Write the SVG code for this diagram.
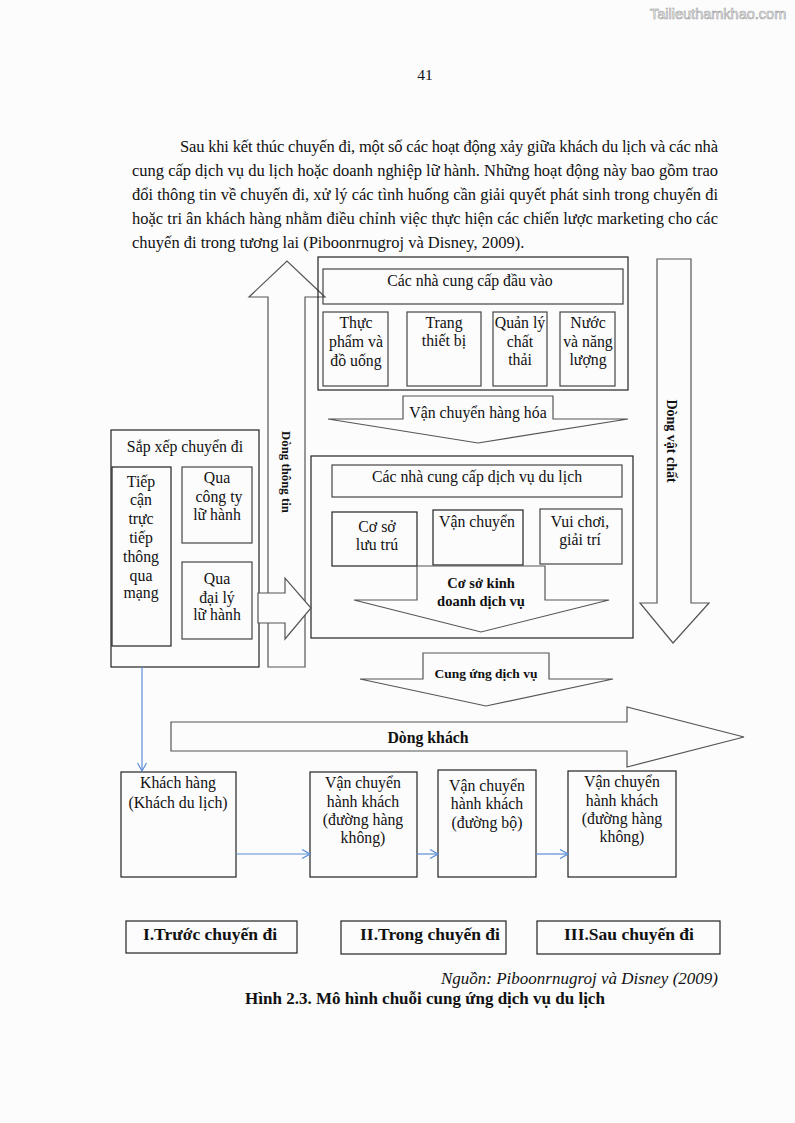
<svg xmlns="http://www.w3.org/2000/svg" width="795" height="1123" viewBox="0 0 795 1123">
<style>
text{font-family:"Liberation Serif","Times New Roman",serif;fill:#111}
.t{font-size:15.8px;text-anchor:middle}
.p{font-size:16.5px}
.b{font-weight:bold}
.box{fill:none;stroke:#222;stroke-width:1.2}
.gbox{fill:none;stroke:#444;stroke-width:1.2}
.arr{fill:#fcfcfd;stroke:#555;stroke-width:1.2;stroke-linejoin:miter}
.blue{fill:none;stroke:#5b8ed6;stroke-width:1.2}
</style>
<defs>
<marker id="ah" markerWidth="10" markerHeight="10" refX="9" refY="5" orient="auto" markerUnits="userSpaceOnUse">
<path d="M1,0.5 L9,5 L1,9.5" fill="none" stroke="#5b8ed6" stroke-width="1.2"/>
</marker>
</defs>
<rect x="0" y="0" width="795" height="1123" fill="#fcfcfd"/>
<text x="650" y="19" style="font-family:'Liberation Sans',Arial,sans-serif;font-size:14.5px;fill:#fff;stroke:#9a9a9a;stroke-width:0.6">Tailieuthamkhao.com</text>
<text x="425" y="80" style="font-size:15.5px;text-anchor:middle">41</text>
<g id="paragraph">
<text x="180" y="152" class="p" textLength="538" lengthAdjust="spacing">Sau khi kết thúc chuyến đi, một số các hoạt động xảy giữa khách du lịch và các nhà</text>
<text x="132" y="176" class="p" textLength="586" lengthAdjust="spacing">cung cấp dịch vụ du lịch hoặc doanh nghiệp lữ hành. Những hoạt động này bao gồm trao</text>
<text x="132" y="200" class="p" textLength="586" lengthAdjust="spacing">đổi thông tin về chuyến đi, xử lý các tình huống cần giải quyết phát sinh trong chuyến đi</text>
<text x="132" y="224" class="p" textLength="586" lengthAdjust="spacing">hoặc tri ân khách hàng nhằm điều chỉnh việc thực hiện các chiến lược marketing cho các</text>
<text x="132" y="248" class="p">chuyến đi trong tương lai (Piboonrnugroj và Disney, 2009).</text>
</g>
<g id="dong-thong-tin">
<polygon class="arr" points="268,667 268,297 249,297 287,261 325,297 305,297 305,667"/>
<text transform="translate(282,472) rotate(90)" class="b" style="font-size:12.8px;text-anchor:middle">Dòng thông tin</text>
</g>
<g id="input-suppliers">
<rect class="box" x="318" y="257" width="310" height="133"/>
<rect class="gbox" x="323" y="269" width="300" height="35"/>
<text x="470" y="286" class="t">Các nhà cung cấp đầu vào</text>
<rect class="gbox" x="323" y="312" width="65" height="74"/>
<text class="t" x="356" y="328">Thực</text><text class="t" x="356" y="347">phẩm và</text><text class="t" x="356" y="366">đồ uống</text>
<rect class="gbox" x="407" y="312" width="74" height="74"/>
<text class="t" x="444" y="328">Trang</text><text class="t" x="444" y="346">thiết bị</text>
<rect class="gbox" x="493" y="312" width="54" height="74"/>
<text class="t" x="520" y="328">Quản lý</text><text class="t" x="520" y="347">chất</text><text class="t" x="520" y="365">thải</text>
<rect class="gbox" x="560" y="312" width="55" height="74"/>
<text class="t" x="588" y="328">Nước</text><text class="t" x="588" y="347">và năng</text><text class="t" x="588" y="365">lượng</text>
</g>
<g id="van-chuyen-hang-hoa">
<polygon class="arr" points="403,396 553,396 553,419 628,419 478,443 328,419 403,419"/>
<text x="478" y="418" class="t">Vận chuyển hàng hóa</text>
</g>
<g id="dong-vat-chat">
<polygon class="arr" points="657,259 691,259 691,603 709,603 673,643 640,603 657,603"/>
<text transform="translate(667,441) rotate(90)" class="b" style="font-size:14px;text-anchor:middle">Dòng vật chất</text>
</g>
<g id="service-suppliers">
<rect class="box" x="311" y="456" width="322" height="182"/>
<rect class="gbox" x="332" y="465" width="290" height="32"/>
<text x="477" y="482" class="t">Các nhà cung cấp dịch vụ du lịch</text>
<rect class="box" x="332" y="512" width="85" height="54"/>
<text class="t" x="377" y="532">Cơ sở</text><text class="t" x="377" y="550">lưu trú</text>
<rect class="box" x="433" y="510" width="90" height="55"/>
<text class="t" x="477" y="527">Vận chuyển</text>
<rect class="gbox" x="540" y="509" width="82" height="55"/>
<text class="t" x="580" y="527">Vui chơi,</text><text class="t" x="580" y="545">giải trí</text>
</g>
<g id="co-so-kinh-doanh">
<polygon class="arr" points="417,566 545,566 545,600 609,600 481,632 354,600 417,600"/>
<text x="481" y="588" class="b" style="font-size:14.5px;text-anchor:middle">Cơ sở kinh</text>
<text x="481" y="606" class="b" style="font-size:14.5px;text-anchor:middle">doanh dịch vụ</text>
</g>
<g id="sap-xep">
<rect class="box" x="111" y="430" width="148" height="237"/>
<text x="185" y="452" class="t">Sắp xếp chuyển đi</text>
<rect class="box" x="112" y="467" width="59" height="179"/>
<text class="t" x="141" y="487">Tiếp</text><text class="t" x="141" y="505">cận</text><text class="t" x="141" y="524">trực</text><text class="t" x="141" y="543">tiếp</text><text class="t" x="141" y="562">thông</text><text class="t" x="141" y="581">qua</text><text class="t" x="141" y="598">mạng</text>
<rect class="gbox" x="182" y="467" width="70" height="76"/>
<text class="t" x="217" y="483">Qua</text><text class="t" x="219" y="502">công ty</text><text class="t" x="217" y="520">lữ hành</text>
<rect class="gbox" x="182" y="562" width="70" height="77"/>
<text class="t" x="217" y="584">Qua</text><text class="t" x="217" y="603">đại lý</text><text class="t" x="217" y="620">lữ hành</text>
</g>
<g id="right-arrow">
<polygon class="arr" points="258,593 285,593 285,578 311,608 285,639 285,623 258,623"/>
</g>
<g id="cung-ung-dich-vu">
<polygon class="arr" points="423,653 549,653 549,679 613,679 486,706 360,679 423,679"/>
<text x="486" y="678" class="b" style="font-size:13.5px;text-anchor:middle">Cung ứng dịch vụ</text>
</g>
<g id="dong-khach">
<polygon class="arr" points="171,722 627,722 627,707 744,737 627,767 627,751 171,751"/>
<text x="428" y="743" class="b" style="font-size:15.8px;text-anchor:middle">Dòng khách</text>
</g>
<g id="khach-hang">
<rect class="box" x="121" y="772" width="115" height="105"/>
<text class="t" x="178" y="788">Khách hàng</text><text class="t" x="178" y="808">(Khách du lịch)</text>
</g>
<g id="vc-hang-khong-1">
<rect class="box" x="310" y="772" width="107" height="105"/>
<text class="t" x="363" y="788">Vận chuyển</text><text class="t" x="363" y="807">hành khách</text><text class="t" x="363" y="825">(đường hàng</text><text class="t" x="363" y="843">không)</text>
</g>
<g id="vc-duong-bo">
<rect class="box" x="438" y="770" width="98" height="107"/>
<text class="t" x="487" y="791">Vận chuyển</text><text class="t" x="487" y="809">hành khách</text><text class="t" x="487" y="828">(đường bộ)</text>
</g>
<g id="vc-hang-khong-2">
<rect class="box" x="568" y="771" width="108" height="106"/>
<text class="t" x="622" y="787">Vận chuyển</text><text class="t" x="622" y="806">hành khách</text><text class="t" x="622" y="824">(đường hàng</text><text class="t" x="622" y="842">không)</text>
</g>
<g id="connectors">
<line class="blue" x1="142" y1="667" x2="142" y2="771" marker-end="url(#ah)"/>
<line class="blue" x1="236" y1="854" x2="310" y2="854" marker-end="url(#ah)"/>
<line class="blue" x1="417" y1="854" x2="438" y2="854" marker-end="url(#ah)"/>
<line class="blue" x1="536" y1="854" x2="568" y2="854" marker-end="url(#ah)"/>
</g>
<g id="phase-1">
<rect class="box" x="126" y="921" width="171" height="32"/>
<text x="210" y="940" class="b" style="font-size:17.5px;text-anchor:middle">I.Trước chuyến đi</text>
</g>
<g id="phase-2">
<rect class="box" x="341" y="921" width="165" height="33"/>
<text x="430" y="940" class="b" style="font-size:17.5px;text-anchor:middle">II.Trong chuyến đi</text>
</g>
<g id="phase-3">
<rect class="box" x="537" y="921" width="183" height="33"/>
<text x="629" y="940" class="b" style="font-size:17.5px;text-anchor:middle">III.Sau chuyến đi</text>
</g>
<text x="718" y="984" style="font-size:17px;font-style:italic;text-anchor:end">Nguồn: Piboonrnugroj và Disney (2009)</text>
<text x="425" y="1004" class="b" style="font-size:17px;text-anchor:middle">Hình 2.3. Mô hình chuỗi cung ứng dịch vụ du lịch</text>
</svg>
